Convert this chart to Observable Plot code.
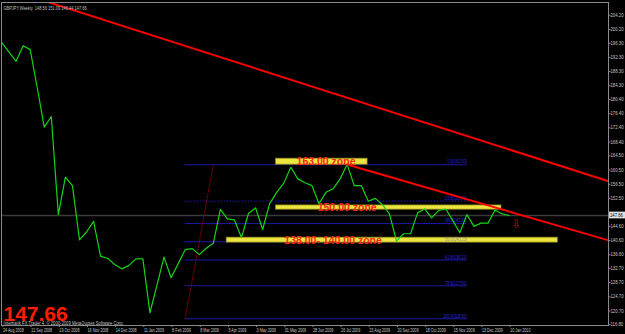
<!DOCTYPE html>
<html><head><meta charset="utf-8">
<script src="https://cdn.jsdelivr.net/npm/d3@7"></script>
<script src="https://cdn.jsdelivr.net/npm/@observablehq/plot@0.6"></script>
<style>
html,body{margin:0;padding:0;background:#000;}
#chart{width:625px;height:334px;overflow:hidden;}
svg{display:block;}
</style></head><body><div id="chart"></div>
<script>
// ---- data ----
const titleText = "GBPJPY,Weekly  148.56 151.09 146.44 147.66";
const footerText = "Interbank FX Trader 4, © 2000-2009 MetaQuotes Software Corp.";
const bid = 147.66;
// weekly closes, 24 Aug 2008 .. 10 Jan 2010 (bar index 0..72)
const closes = [196.4,193.8,191.2,195.6,194.5,183.8,172.6,175.6,147.9,158.5,
  156.1,140.8,143.0,146.0,136.1,135.6,133.8,132.6,133.5,135.4,
  135.4,120.2,128.0,135.9,130.1,134.0,138.0,138.3,136.6,138.4,
  139.8,149.4,146.7,146.4,141.4,148.3,149.8,143.7,151.0,154.2,
  156.8,161.3,158.0,156.9,156.1,151.0,154.2,155.2,158.0,162.1,
  156.1,156.1,151.7,152.5,150.7,148.1,140.4,142.5,142.5,148.4,
  149.5,147.0,149.1,149.5,146.2,142.8,147.9,144.6,145.5,145.5,
  149.2,148.1,147.66];
const xTickBars = [0,4,8,12,16,20,24,28,32,36,40,44,48,52,56,60,64,68,72];
const xTickLabels = ["24 Aug 2008","21 Sep 2008","19 Oct 2008","16 Nov 2008","14 Dec 2008",
  "11 Jan 2009","8 Feb 2009","8 Mar 2009","5 Apr 2009","3 May 2009","31 May 2009",
  "28 Jun 2009","26 Jul 2009","23 Aug 2009","20 Sep 2009","18 Oct 2009","15 Nov 2009",
  "13 Dec 2009","10 Jan 2010"];
const yTicks = [204.20,200.20,196.30,192.30,188.30,184.30,180.40,176.40,172.40,168.40,
  164.50,160.50,156.50,152.50,144.60,140.60,136.60,132.70,128.70,124.70,120.70,116.80];

// zones (yellow bands with red labels)
const zoneLabels = ["163.00 zone","150.00 zone","138.00- 140.00 zone"];
const zoneStart = [38.9, 38.9, 31.9];
const zoneEnd = [51.9, 70.9, 78.9];
const zoneLow = [162.0, 149.3, 140.0];
const zoneHigh = [163.7, 150.5, 141.4];
const zoneTextBar = [46, 49, 47];

// fibonacci retracement (drawn from the 118.50 low to the 162.00 high)
const fiboStart = 26, fiboEnd = 66;
const fiboLevels = [162.00, 151.73, 145.38, 140.25, 135.12, 127.81, 118.50];
const fiboLabels = ["0.0(162.00)","23.6(151.73)","38.2(145.38)","50.0(140.25)","61.8(135.12)","78.6(127.81)","100.0(118.50)"];
const fiboDotted = [false,true,false,false,false,false,false];
const fiboDiagBars = [26, 30];
const fiboDiagPrices = [118.5, 162.0];

// trend lines (bar index, price)
const trend1Bars = [6.55, 86.0], trend1Prices = [207.9, 157.4];
const trend2Bars = [48.97, 86.0], trend2Prices = [162.06, 140.7];

// arrow
const arrowBar = 73, arrowPrice = 145.1;

// ---- build ----
const series = closes.map((c, i) => ({i, c}));
const zones = zoneLabels.map((t, k) => ({t, x1: zoneStart[k], x2: zoneEnd[k], y1: zoneLow[k], y2: zoneHigh[k], tx: zoneTextBar[k]}));
const fibo = fiboLevels.map((p, k) => ({p, t: fiboLabels[k], dotted: fiboDotted[k], gray: k === 3}));
const t1 = trend1Bars.map((b, k) => ({i: b, p: trend1Prices[k]}));
const t2 = trend2Bars.map((b, k) => ({i: b, p: trend2Prices[k]}));
const fd = fiboDiagBars.map((b, k) => ({i: b, p: fiboDiagPrices[k]}));
const FONT = "Liberation Sans, Arial, sans-serif";

const chart = Plot.plot({
  width: 625, height: 334,
  marginLeft: 1, marginRight: 17, marginTop: 2, marginBottom: 9,
  style: {background: "#000", color: "#c8c8c8", fontFamily: FONT, fontSize: "6px", overflow: "visible"},
  x: {domain: [-0.07, 86.1]},
  y: {domain: [116.6, 207.8]},
  marks: [
    Plot.ruleY([bid], {stroke: "#3a3a3a", strokeWidth: 1.5}),
    Plot.ruleY(fibo.filter(d => !d.dotted), {y: "p", x1: () => fiboStart, x2: () => fiboEnd, stroke: "#1a1aa8", strokeWidth: 1}),
    Plot.ruleY(fibo.filter(d => d.dotted), {y: "p", x1: () => fiboStart, x2: () => fiboEnd, stroke: "#1a1ab8", strokeWidth: 1, strokeDasharray: "1.5,1.5"}),
    Plot.line(fd, {x: "i", y: "p", stroke: "#800000", strokeWidth: 1, strokeDasharray: "1.5,1.5"}),
    Plot.rect(zones, {x1: "x1", x2: "x2", y1: "y1", y2: "y2", fill: "#ece53e", stroke: "#8c8420", strokeWidth: 0.8}),
    Plot.text(fibo, {x: () => fiboEnd, y: "p", text: "t", textAnchor: "end", dy: -3, fill: d => d.gray ? "#8a8a9a" : "#2a2ad0", fontSize: 5.5}),
    Plot.line(series, {x: "i", y: "c", stroke: "#14d414", strokeWidth: 1.2}),
    Plot.line(t1, {x: "i", y: "p", stroke: "#ff0000", strokeWidth: 2, clip: true}),
    Plot.line(t2, {x: "i", y: "p", stroke: "#ff0000", strokeWidth: 2, clip: true}),
    Plot.text(zones, {x: "tx", y: d => (d.y1 + d.y2) / 2, text: "t", fill: "#ff2418", fontWeight: "bold", fontSize: 10.5, fontFamily: FONT}),
    Plot.text([{i: arrowBar, p: arrowPrice}], {x: "i", y: "p", text: () => "\u21E9", fill: "#c80000", fontSize: 12, fontFamily: "DejaVu Sans"}),
    Plot.frame({stroke: "#8a8a8a"}),
    Plot.axisY(yTicks, {anchor: "right", tickSize: 1.5, tickPadding: 0.5, tickFormat: d => d.toFixed(2), stroke: "#8a8a8a", fill: "#c8c8c8", fontSize: 4.9, label: null}),
    Plot.rect([bid], {x1: () => 86.25, x2: () => 88.6, y1: d => d - 0.95, y2: d => d + 0.95, fill: "#e0e0e0"}),
    Plot.text([bid], {x: () => 86.3, y: d => d, text: d => d.toFixed(2), textAnchor: "start", fill: "#010101", fontSize: 4.9}),
    Plot.axisX(xTickBars, {anchor: "bottom", tickSize: 2, tickPadding: 1, tickFormat: d => xTickLabels[d / 4], textAnchor: "start", dx: 1, stroke: "#8a8a8a", fill: "#c8c8c8", fontSize: 4.9, label: null}),
    Plot.text([titleText], {frameAnchor: "top-left", dx: 2, dy: 3, fill: "#c0c0c0", fontSize: 6}),
    Plot.text([bid.toFixed(2)], {frameAnchor: "bottom-left", dx: 2, dy: -5, lineAnchor: "bottom", fill: "#ff1c00", fontWeight: "bold", fontSize: 21}),
    Plot.text([footerText], {frameAnchor: "bottom-left", dx: 2, dy: -0.5, lineAnchor: "bottom", fill: "#c0c0c0", fontSize: 5.5})
  ]
});
document.getElementById("chart").appendChild(chart);

// emulate the terminal's narrow pixel font: horizontally condense the small texts
const yTickStrings = yTicks.map(d => d.toFixed(2));
function squeeze(t, k) {
  const w = t.getComputedTextLength();
  if (w > 0) { t.setAttribute("textLength", (w * k).toFixed(1)); t.setAttribute("lengthAdjust", "spacingAndGlyphs"); }
}
chart.querySelectorAll("text").forEach(t => {
  const s = t.textContent;
  const g = t.parentNode;
  const fill = (t.getAttribute("fill") || (g && g.getAttribute("fill")) || "");
  if (xTickLabels.includes(s)) squeeze(t, 0.755);
  else if (yTickStrings.includes(s)) squeeze(t, 0.87);
  else if (s === titleText) squeeze(t, 0.66);
  else if (s === footerText) squeeze(t, 0.76);
  else if (fiboLabels.includes(s)) squeeze(t, 0.7);
  else if (s === bid.toFixed(2) && fill === "#010101") squeeze(t, 0.87);
});
</script></body></html>
